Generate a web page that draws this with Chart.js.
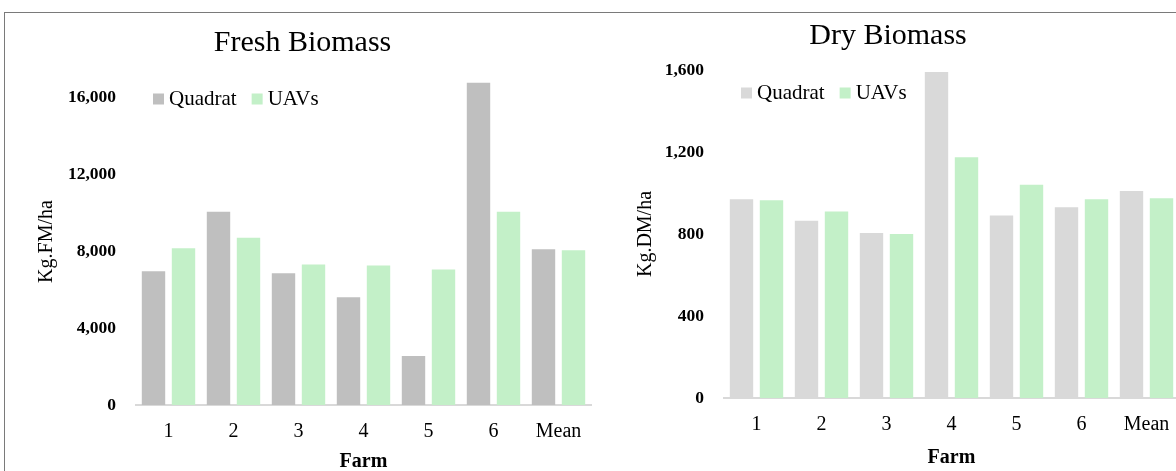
<!DOCTYPE html>
<html>
<head>
<meta charset="utf-8">
<script src="https://cdn.jsdelivr.net/npm/chart.js@4/dist/chart.umd.min.js"></script>
<style>
  html, body { margin: 0; padding: 0; background: #fff; overflow: hidden; width: 1176px; height: 471px; }
  #frame { position: absolute; left: 4px; top: 12px; width: 1300px; height: 600px;
           border-top: 1px solid #7a7a7a; border-left: 1px solid #7a7a7a; }
  canvas { position: absolute; }
  #fresh { left: 5px; top: 14px; }
  #dry { left: 590px; top: 14px; }
</style>
</head>
<body>
<div id="frame"></div>
<canvas id="fresh" width="595" height="467"></canvas>
<canvas id="dry" width="600" height="467"></canvas>
<script>
// Farms on the x axis
const farms = ['1', '2', '3', '4', '5', '6', 'Mean'];

// Fresh biomass (Kg FM/ha)
const freshQuadrat = [6950, 10050, 6850, 5600, 2550, 16750, 8100];
const freshUAV     = [8150, 8700, 7300, 7250, 7050, 10050, 8050];
const freshTicks   = [0, 4000, 8000, 12000, 16000];

// Dry biomass (Kg DM/ha)
const dryQuadrat = [970, 865, 805, 1590, 890, 930, 1010];
const dryUAV     = [965, 910, 800, 1175, 1040, 970, 975];
const dryTicks   = [0, 400, 800, 1200, 1600];

const SERIF = '"Liberation Serif", "Times New Roman", serif';
const INK = '#000';
const GREEN = '#c3f0c8';

// Legend drawn inside the plot area, in the upper-left corner
const cornerLegend = {
  id: 'cornerLegend',
  afterDraw(chart, args, opts) {
    const { ctx, chartArea } = chart;
    const box = opts.boxSize;
    let x = chartArea.left + opts.offsetX;
    const y = chartArea.top + opts.offsetY;
    ctx.save();
    ctx.font = opts.font;
    ctx.textBaseline = 'middle';
    ctx.textAlign = 'left';
    chart.data.datasets.forEach(ds => {
      ctx.fillStyle = ds.backgroundColor;
      ctx.fillRect(x, y - box / 2, box, box);
      x += box + opts.gap;
      ctx.fillStyle = opts.color;
      ctx.fillText(ds.label, x, y);
      x += ctx.measureText(ds.label).width + opts.itemGap;
    });
    ctx.restore();
  }
};

function biomassChart(id, spec) {
  return new Chart(document.getElementById(id), {
    type: 'bar',
    data: {
      labels: farms,
      datasets: [
        { label: 'Quadrat', data: spec.quadrat, backgroundColor: spec.grey,
          categoryPercentage: 0.923, barPercentage: 0.78 },
        { label: 'UAVs', data: spec.uav, backgroundColor: GREEN,
          categoryPercentage: 0.923, barPercentage: 0.78 }
      ]
    },
    options: {
      responsive: false,
      animation: false,
      devicePixelRatio: 1,
      layout: { padding: spec.padding },
      plugins: {
        legend: { display: false },
        tooltip: { enabled: false },
        title: {
          display: true,
          text: spec.title,
          color: INK,
          font: { family: SERIF, size: 30, weight: 'normal' },
          padding: spec.titlePad
        },
        cornerLegend: {
          font: '21px ' + SERIF, color: INK, boxSize: 11, gap: 5, itemGap: 15,
          offsetX: 17, offsetY: spec.legendDy
        }
      },
      scales: {
        x: {
          grid: { display: false, drawTicks: false },
          border: { display: true, color: '#d9d9d9', width: 2 },
          ticks: { color: INK, font: { family: SERIF, size: 20 }, padding: 15 },
          title: { display: true, text: 'Farm', color: INK,
                   font: { family: SERIF, size: 20, weight: 'bold' },
                   padding: { top: 0, bottom: spec.farmPad } },
          afterFit: s => { s.height = spec.xHeight; }
        },
        y: {
          min: 0,
          max: spec.max,
          grid: { display: false, drawTicks: false },
          border: { display: false },
          afterBuildTicks: s => { s.ticks = spec.ticks.map(v => ({ value: v })); },
          ticks: { color: INK, font: { family: SERIF, size: 17.5, weight: 'bold' }, padding: 20,
                   callback: v => Number(v).toLocaleString('en-US') },
          title: { display: true, text: spec.yTitle, color: INK,
                   font: { family: SERIF, size: 20 },
                   padding: { top: spec.yTitlePad, bottom: 0 } },
          afterFit: s => { s.width = spec.yWidth; }
        }
      }
    },
    plugins: [cornerLegend]
  });
}

biomassChart('fresh', {
  title: 'Fresh Biomass',
  yTitle: 'Kg.FM/ha',
  quadrat: freshQuadrat,
  uav: freshUAV,
  ticks: freshTicks,
  max: 17000,
  grey: '#bfbfbf',
  padding: { left: 9, right: 9, top: 0, bottom: 0 },
  titlePad: { top: 11, bottom: 17 },
  yWidth: 122,
  yTitlePad: 21,
  xHeight: 76,
  farmPad: 7,
  legendDy: 21
});

biomassChart('dry', {
  title: 'Dry Biomass',
  yTitle: 'Kg.DM/ha',
  quadrat: dryQuadrat,
  uav: dryUAV,
  ticks: dryTicks,
  max: 1600,
  grey: '#d9d9d9',
  padding: { left: 7, right: 11, top: 0, bottom: 0 },
  titlePad: { top: 4, bottom: 16 },
  yWidth: 127,
  yTitlePad: 37,
  xHeight: 83,
  farmPad: 11,
  legendDy: 23
});
</script>
</body>
</html>
